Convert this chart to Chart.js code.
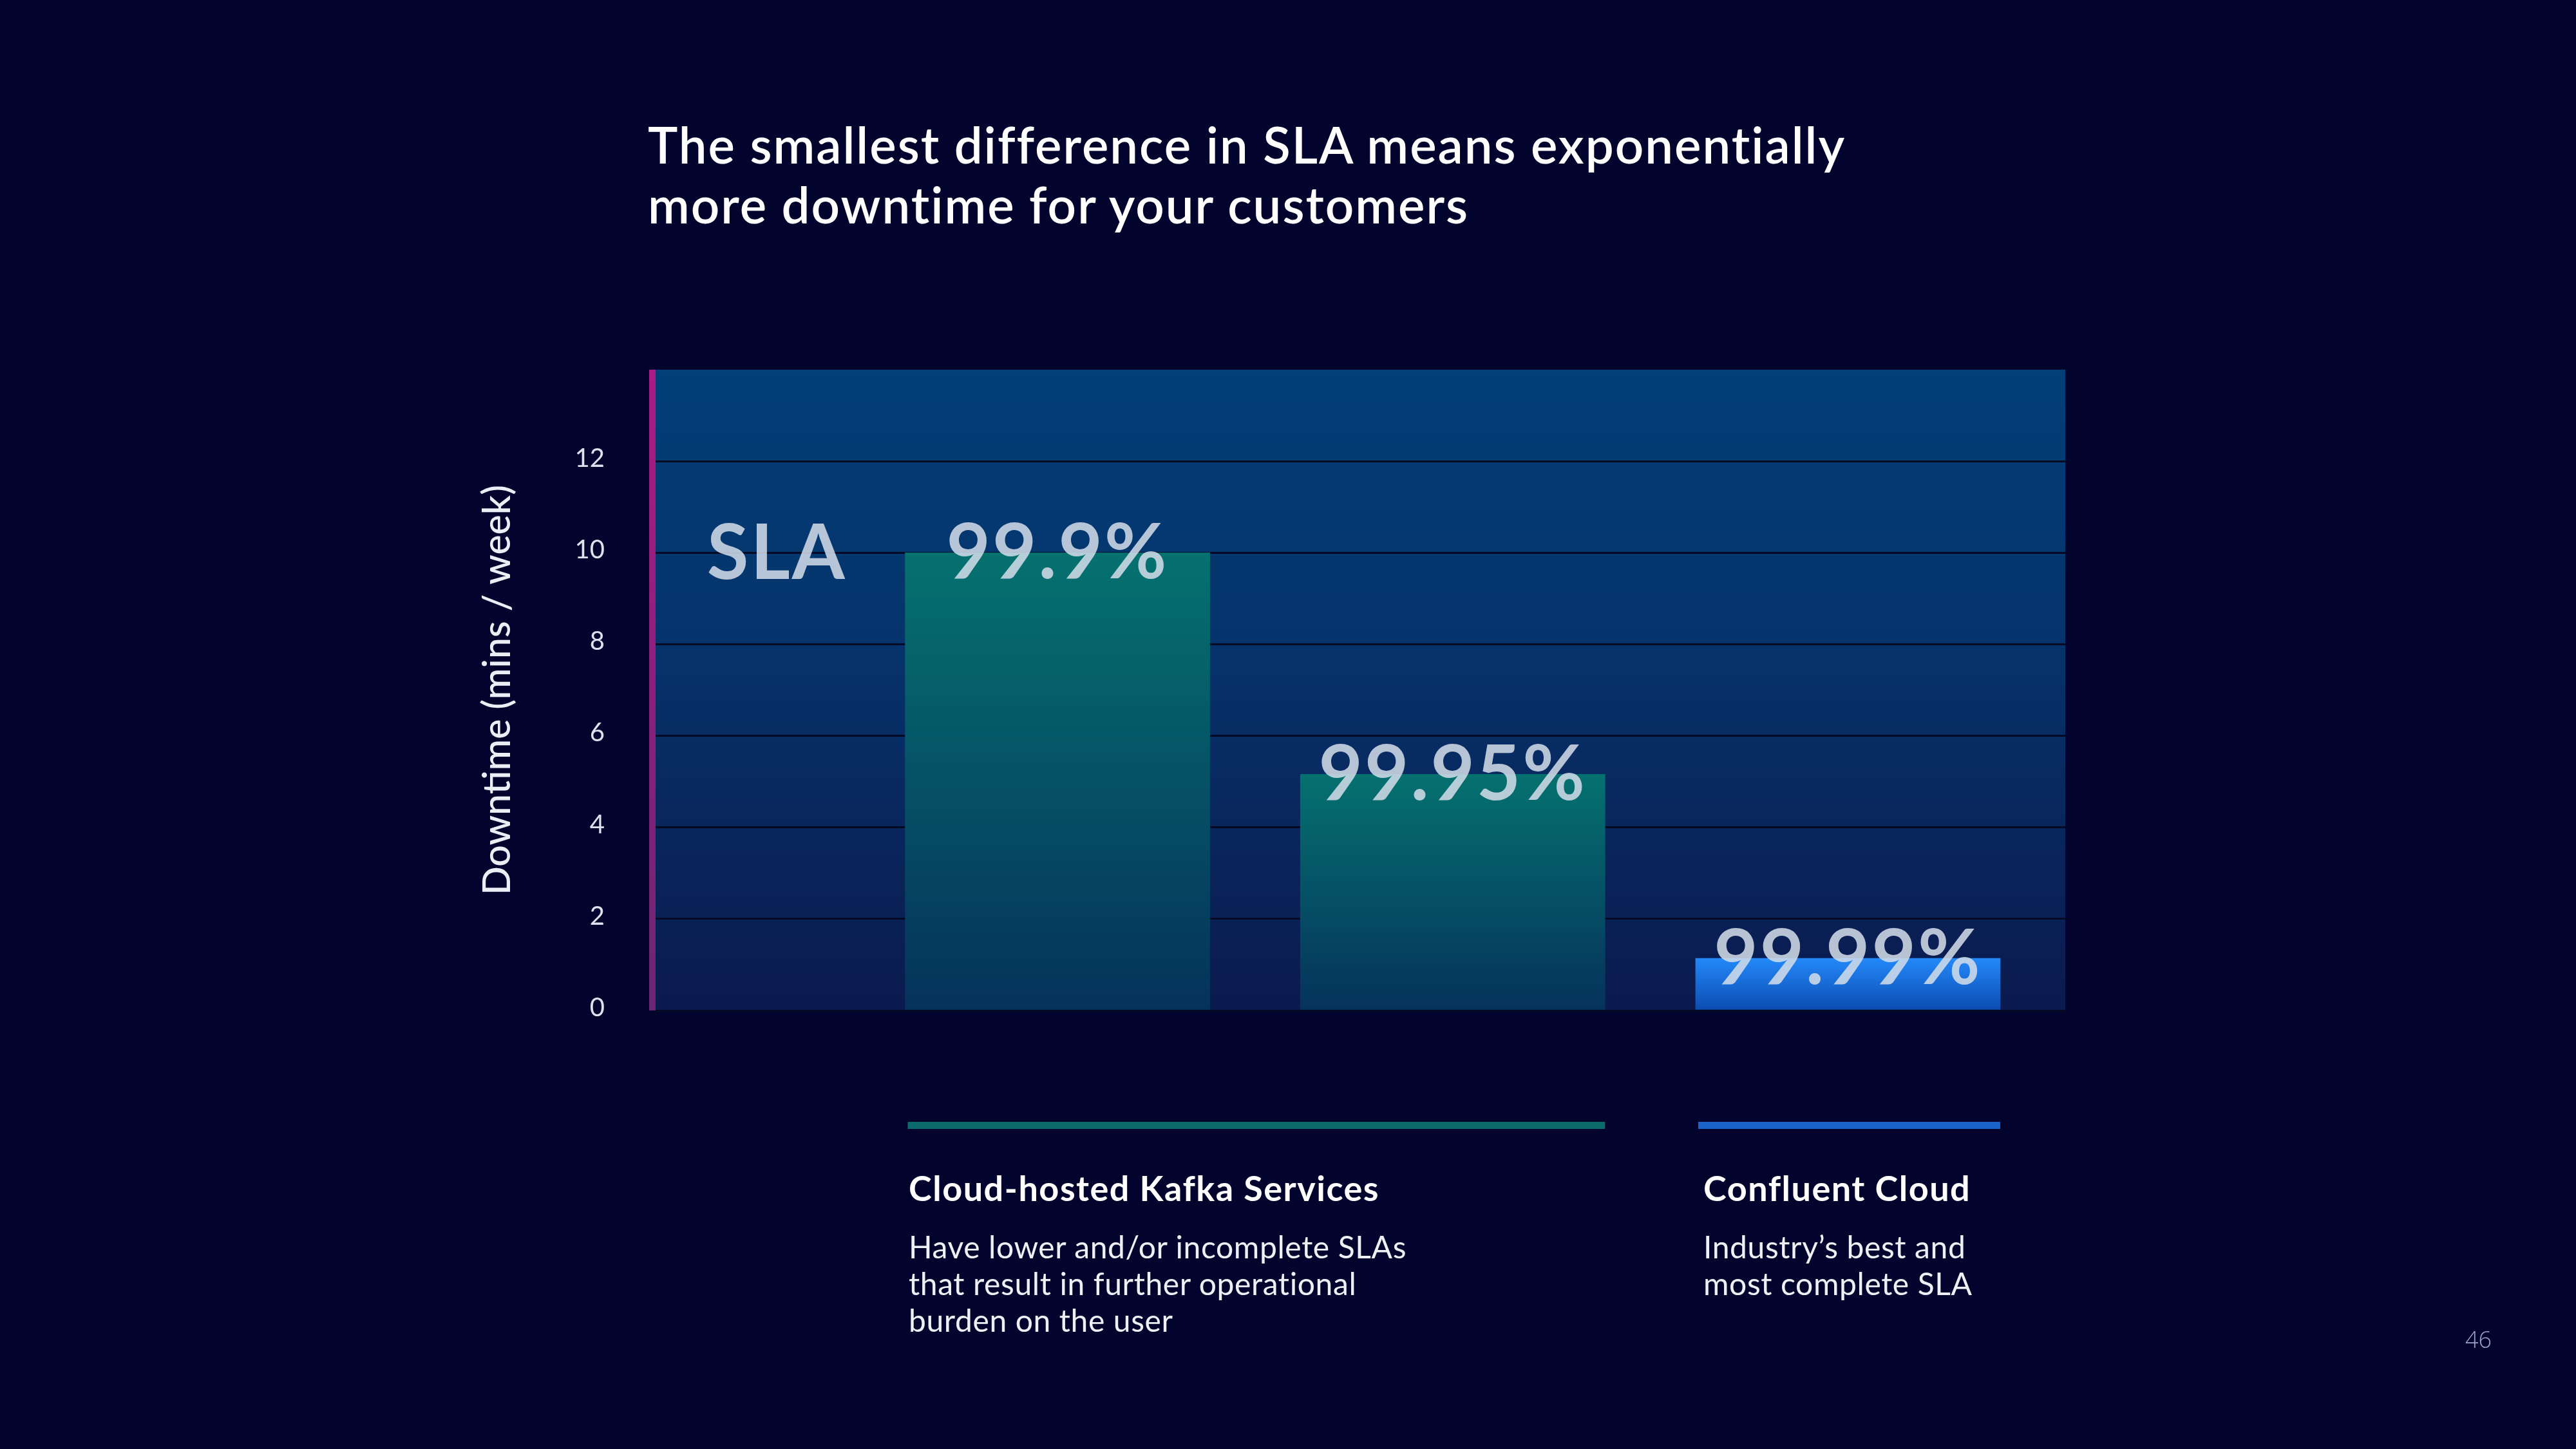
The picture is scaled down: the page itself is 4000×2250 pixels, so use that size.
<!DOCTYPE html>
<html>
<head>
<meta charset="utf-8">
<script src="https://cdn.jsdelivr.net/npm/chart.js@4/dist/chart.umd.min.js"></script>
<style>
  html, body { margin: 0; padding: 0; background: #03042e; }
  #wrap { position: relative; width: 4000px; height: 2250px; overflow: hidden; background: #03042e; }
  #c { position: absolute; left: 0; top: 0; }
  .txt { position: absolute; color: #ffffff; font-family: Lato, "Noto Sans", sans-serif; white-space: nowrap; }
  #title { left: 1006px; top: 178px; font-size: 78px; line-height: 93px; font-weight: 600; letter-spacing: 2px; }
  .head { font-size: 54px; line-height: 54px; font-weight: 700; top: 1818px; letter-spacing: 1.5px; }
  .desc { font-size: 48px; line-height: 57px; font-weight: 400; top: 1907px; color: #eef0f6; letter-spacing: 0.6px; }
  #pg { left: 3828px; top: 2060px; font-size: 36px; line-height: 40px; font-family: "Open Sans", Lato, sans-serif; font-weight: 300; color: #9aa1c4; }
</style>
</head>
<body>
<div id="wrap">
  <canvas id="c" width="4000" height="2250"></canvas>
  <div id="title" class="txt">The smallest difference in SLA means exponentially<br>more downtime for your customers</div>
  <div class="txt head" style="left:1411px">Cloud-hosted Kafka Services</div>
  <div class="txt desc" style="left:1411px">Have lower and/or incomplete SLAs<br>that result in further operational<br>burden on the user</div>
  <div class="txt head" style="left:2645px">Confluent Cloud</div>
  <div class="txt desc" style="left:2645px">Industry’s best and<br>most complete SLA</div>
  <div id="pg" class="txt">46</div>
</div>
<script>
// ---- data ----
const categories = ['99.9%', '99.95%', '99.99%'];
const downtime = [10.0, 5.16, 1.14];
const groupOfBar = [0, 0, 1];
const groupNames = ['Cloud-hosted Kafka Services', 'Confluent Cloud'];
const yTicks = [0, 2, 4, 6, 8, 10, 12];
const yTitle = 'Downtime (mins / week)';
const slaText = 'SLA';

// ---- styles ----
const barTop = ['#05716f', '#05716f', '#2388f8'];
const barBottom = ['#05325b', '#05325b', '#0c4cb2'];
const groupColors = ['#0b6a6a', '#1a63c9'];

const areaBg = {
  id: 'areaBg',
  beforeDraw(chart) {
    const { ctx, chartArea: a } = chart;
    const g = ctx.createLinearGradient(0, a.top, 0, a.bottom);
    g.addColorStop(0, '#023f77');
    g.addColorStop(0.45, '#06326a');
    g.addColorStop(1, '#0b1a4e');
    ctx.save();
    ctx.fillStyle = g;
    ctx.fillRect(a.left, a.top, a.right - a.left, a.bottom - a.top);
    ctx.restore();
  }
};

const overlay = {
  id: 'overlay',
  afterDatasetsDraw(chart) {
    const { ctx, chartArea: a } = chart;
    const meta = chart.getDatasetMeta(0);
    const ys = chart.scales.y, xs = chart.scales.x;
    ctx.save();
    // magenta axis line
    const lg = ctx.createLinearGradient(0, a.top, 0, a.bottom);
    lg.addColorStop(0, '#aa1b86');
    lg.addColorStop(1, '#6a2673');
    ctx.fillStyle = lg;
    ctx.fillRect(a.left - 5, a.top, 10, a.bottom - a.top);
    // labels
    ctx.font = '700 118px Lato';
    ctx.letterSpacing = '3px';
    ctx.fillStyle = 'rgba(212,221,233,0.86)';
    ctx.textAlign = 'center';
    ctx.textBaseline = 'alphabetic';
    meta.data.forEach((bar, i) => {
      ctx.fillText(categories[i], bar.x, bar.y + 40);
    });
    ctx.fillText(slaText, xs.getPixelForValue(-0.71), ys.getPixelForValue(downtime[0]) + 41);
    // group lines under the bars
    groupNames.forEach((name, gi) => {
      let l = Infinity, r = -Infinity;
      meta.data.forEach((bar, i) => {
        if (groupOfBar[i] !== gi) return;
        l = Math.min(l, bar.x - bar.width / 2);
        r = Math.max(r, bar.x + bar.width / 2);
      });
      ctx.fillStyle = groupColors[gi];
      ctx.fillRect(l + 4, a.bottom + 173, r - l - 4, 11);
    });
    ctx.restore();
  }
};

new Chart(document.getElementById('c'), {
  type: 'bar',
  data: {
    datasets: [{
      label: yTitle,
      data: downtime.map((v, i) => ({ x: i, y: v })),
      barThickness: 473,
      borderWidth: 0,
      backgroundColor: (c) => {
        const chart = c.chart;
        if (!chart.chartArea || c.dataIndex === undefined) return barTop[0];
        const ys = chart.scales.y;
        const top = ys.getPixelForValue(downtime[c.dataIndex]);
        const bot = ys.getPixelForValue(0);
        const g = chart.ctx.createLinearGradient(0, top, 0, bot);
        g.addColorStop(0, barTop[c.dataIndex]);
        g.addColorStop(1, barBottom[c.dataIndex]);
        return g;
      }
    }]
  },
  options: {
    responsive: false,
    animation: false,
    devicePixelRatio: 1,
    layout: { padding: { left: 700, right: 793, top: 574, bottom: 681 } },
    plugins: { legend: { display: false }, tooltip: { enabled: false }, title: { display: false } },
    scales: {
      x: { type: 'linear', offset: false, min: -1.025, max: 2.55, display: false, ticks: { stepSize: 1 } },
      y: {
        min: 0, max: 14,
        afterBuildTicks: (s) => { s.ticks = yTicks.map(v => ({ value: v })); },
        afterFit: (s) => { s.width = 313; },
        border: { display: false },
        grid: { color: '#050a24', lineWidth: 3, drawTicks: false },
        ticks: {
          padding: 74,
          labelOffset: -4,
          color: '#dde2ee',
          font: { family: 'Lato', size: 40, weight: '400' }
        },
        title: {
          display: true,
          text: yTitle,
          color: '#eceef5',
          padding: { top: 38, bottom: 0 },
          font: { family: 'Lato', size: 59, weight: '500' }
        }
      }
    }
  },
  plugins: [areaBg, overlay]
});
</script>
</body>
</html>
